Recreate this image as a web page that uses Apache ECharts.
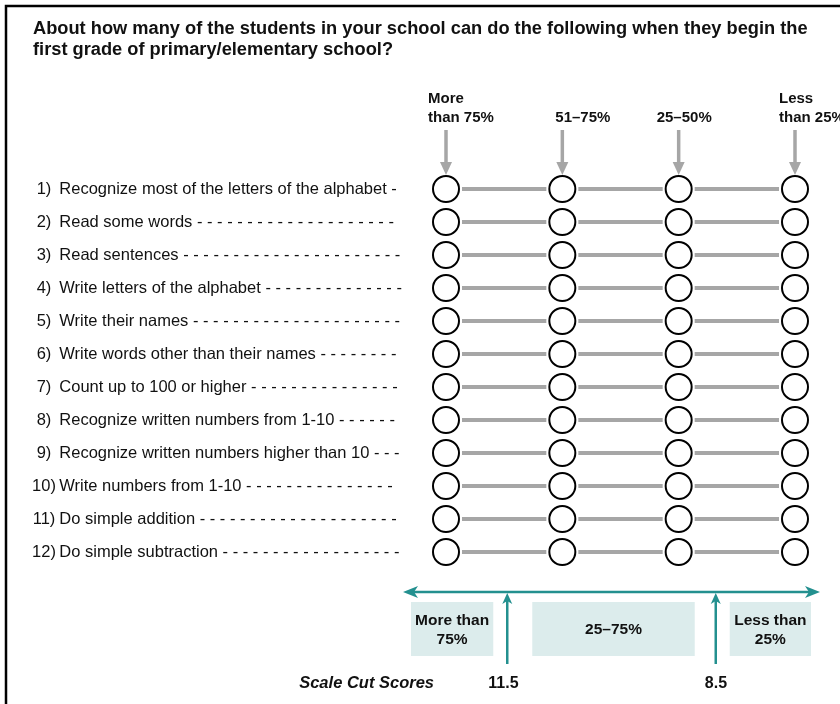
<!DOCTYPE html>
<html>
<head>
<meta charset="utf-8">
<script src="https://cdn.jsdelivr.net/npm/echarts@6/dist/echarts.min.js"></script>
<style>
  html, body { margin: 0; padding: 0; background: #fff; }
  #chart { width: 840px; height: 704px; }
</style>
</head>
<body>
<div id="chart"></div>
<script>
// response options across the top
const columns = ['More\nthan 75%', '51–75%', '25–50%', 'Less\nthan 25%'];

// the twelve questionnaire items
const items = [
    'Recognize most of the letters of the alphabet',
    'Read some words',
    'Read sentences',
    'Write letters of the alphabet',
    'Write their names',
    'Write words other than their names',
    'Count up to 100 or higher',
    'Recognize written numbers from 1-10',
    'Recognize written numbers higher than 10',
    'Write numbers from 1-10',
    'Do simple addition',
    'Do simple subtraction'
];

// scale cut scores and the bands between them
const scaleRange = [13, 7];
const cutScores = [11.5, 8.5];
const bandLabels = ['More than\n75%', '25–75%', 'Less than\n25%'];

const FONT = '"Liberation Sans", Arial, sans-serif';
const GREY = '#a6a6a6';
const TEAL = '#23908f';
const BOX = '#dcecec';

// header labels are not centred the same way on every column
const headerLabelShift = [-18, -7, -22, -16];

const chart = echarts.init(document.getElementById('chart'));

// pad each item label with " -" up to the circles
const measure = document.createElement('canvas').getContext('2d');
measure.font = '16.5px ' + FONT;
const dashed = (text, room) => {
    let s = text;
    while (measure.measureText(s + ' -').width <= room) s += ' -';
    return s;
};

const rowData = [];
const segData = [];
items.forEach((_, r) => {
    columns.forEach((_, c) => {
        rowData.push([c, r]);
        if (c < columns.length - 1) segData.push([c, r]);
    });
});

const bands = [];
const edges = [scaleRange[0], ...cutScores, scaleRange[1]];
for (let i = 0; i < edges.length - 1; i++) bands.push([edges[i], edges[i + 1], i]);

const option = {
    animation: false,
    title: {
        text: 'About how many of the students in your school can do the following when they begin the\nfirst grade of primary/elementary school?',
        left: 28,
        top: 14,
        textStyle: { fontFamily: FONT, fontSize: 18.25, fontWeight: 'bold', color: '#111', lineHeight: 20.5 }
    },
    grid: [
        { left: 446, right: 45, top: 172.5, height: 396 },
        { left: 403, right: 20, top: 592, height: 72 }
    ],
    xAxis: [
        { gridIndex: 0, type: 'value', min: 0, max: columns.length - 1, show: false },
        { gridIndex: 1, type: 'value', min: scaleRange[1], max: scaleRange[0], inverse: true, show: false }
    ],
    yAxis: [
        {
            gridIndex: 0,
            type: 'category',
            inverse: true,
            data: items,
            axisLine: { show: false },
            axisTick: { show: false },
            splitLine: { show: false },
            axisLabel: {
                align: 'left',
                margin: 414,
                formatter: (v, i) => '{n|' + (i + 1) + ')} {t|' + dashed(v, 343) + '}',
                rich: {
                    n: { width: 24, align: 'right', fontFamily: FONT, fontSize: 16.5, color: '#111' },
                    t: { fontFamily: FONT, fontSize: 16.5, color: '#111' }
                }
            }
        },
        { gridIndex: 1, type: 'value', min: 0, max: 1, show: false }
    ],
    graphic: [
        {
            type: 'polyline',
            shape: { points: [[6, 704], [6, 6], [840, 6]] },
            style: { stroke: '#000', lineWidth: 2.5, fill: null }
        },
        {
            type: 'text',
            right: 840 - 434,
            top: 675,
            style: { text: 'Scale Cut Scores', font: 'italic bold 16.5px ' + FONT, fill: '#111' }
        }
    ],
    series: [
        {
            // grey connectors between the circles
            type: 'custom',
            xAxisIndex: 0,
            yAxisIndex: 0,
            data: segData,
            renderItem: (params, api) => {
                const a = api.coord([api.value(0), api.value(1)]);
                const b = api.coord([api.value(0) + 1, api.value(1)]);
                return {
                    type: 'line',
                    shape: { x1: a[0] + 16, y1: a[1], x2: b[0] - 16, y2: b[1] },
                    style: { stroke: GREY, lineWidth: 4 }
                };
            }
        },
        {
            type: 'scatter',
            xAxisIndex: 0,
            yAxisIndex: 0,
            data: rowData,
            symbol: 'circle',
            symbolSize: 26,
            itemStyle: { color: '#fff', borderColor: '#000', borderWidth: 2, opacity: 1 },
            z: 3
        },
        {
            // column headers with grey arrows
            type: 'custom',
            xAxisIndex: 0,
            yAxisIndex: 0,
            data: columns.map((c, i) => [i, 0]),
            renderItem: (params, api) => {
                const i = api.value(0);
                const p = api.coord([i, 0]);
                const x = p[0], y = p[1];
                return {
                    type: 'group',
                    children: [
                        {
                            type: 'text',
                            style: {
                                text: columns[i],
                                x: x + headerLabelShift[i],
                                y: y - 62,
                                verticalAlign: 'bottom',
                                font: 'bold 15px ' + FONT,
                                lineHeight: 19,
                                fill: '#111'
                            }
                        },
                        {
                            type: 'line',
                            shape: { x1: x, y1: y - 59, x2: x, y2: y - 25 },
                            style: { stroke: GREY, lineWidth: 3.5 }
                        },
                        {
                            type: 'polygon',
                            shape: { points: [[x - 6, y - 27], [x + 6, y - 27], [x, y - 14]] },
                            style: { fill: GREY }
                        }
                    ]
                };
            }
        },
        {
            // scale line with its two heads
            type: 'custom',
            xAxisIndex: 1,
            yAxisIndex: 1,
            data: [scaleRange],
            renderItem: (params, api) => {
                const a = api.coord([api.value(0), 1]);
                const b = api.coord([api.value(1), 1]);
                const y = a[1];
                return {
                    type: 'group',
                    children: [
                        { type: 'line', shape: { x1: a[0] + 6, y1: y, x2: b[0] - 6, y2: y }, style: { stroke: TEAL, lineWidth: 2.5 } },
                        { type: 'polygon', shape: { points: [[a[0], y], [a[0] + 15, y - 6], [a[0] + 11, y], [a[0] + 15, y + 6]] }, style: { fill: TEAL } },
                        { type: 'polygon', shape: { points: [[b[0], y], [b[0] - 15, y - 6], [b[0] - 11, y], [b[0] - 15, y + 6]] }, style: { fill: TEAL } }
                    ]
                };
            },
            z: 4
        },
        {
            // shaded bands
            type: 'custom',
            xAxisIndex: 1,
            yAxisIndex: 1,
            data: bands,
            renderItem: (params, api) => {
                const idx = api.value(2);
                const a = api.coord([api.value(0), 1]);
                const b = api.coord([api.value(1), 0]);
                const last = bands.length - 1;
                const inL = idx === 0 ? 8 : (idx === last ? 14 : 25);
                const inR = idx === last ? 9 : (idx === 0 ? 14 : 21);
                const x0 = a[0] + inL, x1 = b[0] - inR;
                const y0 = a[1] + 10, y1 = a[1] + 64;
                return {
                    type: 'group',
                    children: [
                        { type: 'rect', shape: { x: x0, y: y0, width: x1 - x0, height: y1 - y0 }, style: { fill: BOX } },
                        {
                            type: 'text',
                            style: {
                                text: bandLabels[idx],
                                x: (x0 + x1) / 2,
                                y: (y0 + y1) / 2 + 1,
                                align: 'center',
                                verticalAlign: 'middle',
                                font: 'bold 15.5px ' + FONT,
                                lineHeight: 19,
                                fill: '#111'
                            }
                        }
                    ]
                };
            }
        },
        {
            // cut score arrows and their values, decimal point under the arrow
            type: 'custom',
            xAxisIndex: 1,
            yAxisIndex: 1,
            data: cutScores.map(v => [v]),
            renderItem: (params, api) => {
                const v = api.value(0);
                const top = api.coord([v, 1]);
                const bot = api.coord([v, 0]);
                const x = top[0], y = top[1] + 1;
                const parts = String(v).split('.');
                const font = 'bold 16px ' + FONT;
                return {
                    type: 'group',
                    children: [
                        { type: 'line', shape: { x1: x, y1: y + 8, x2: x, y2: bot[1] }, style: { stroke: TEAL, lineWidth: 2.5 } },
                        { type: 'polygon', shape: { points: [[x, y], [x - 5, y + 11], [x, y + 8], [x + 5, y + 11]] }, style: { fill: TEAL } },
                        {
                            type: 'text',
                            style: { text: parts[0], x: x - 2, y: bot[1] + 20, align: 'right', verticalAlign: 'middle', font: font, fill: '#111' }
                        },
                        {
                            type: 'text',
                            style: { text: '.' + (parts[1] || '0'), x: x - 2, y: bot[1] + 20, align: 'left', verticalAlign: 'middle', font: font, fill: '#111' }
                        }
                    ]
                };
            },
            z: 4
        }
    ]
};

chart.setOption(option);
</script>
</body>
</html>
